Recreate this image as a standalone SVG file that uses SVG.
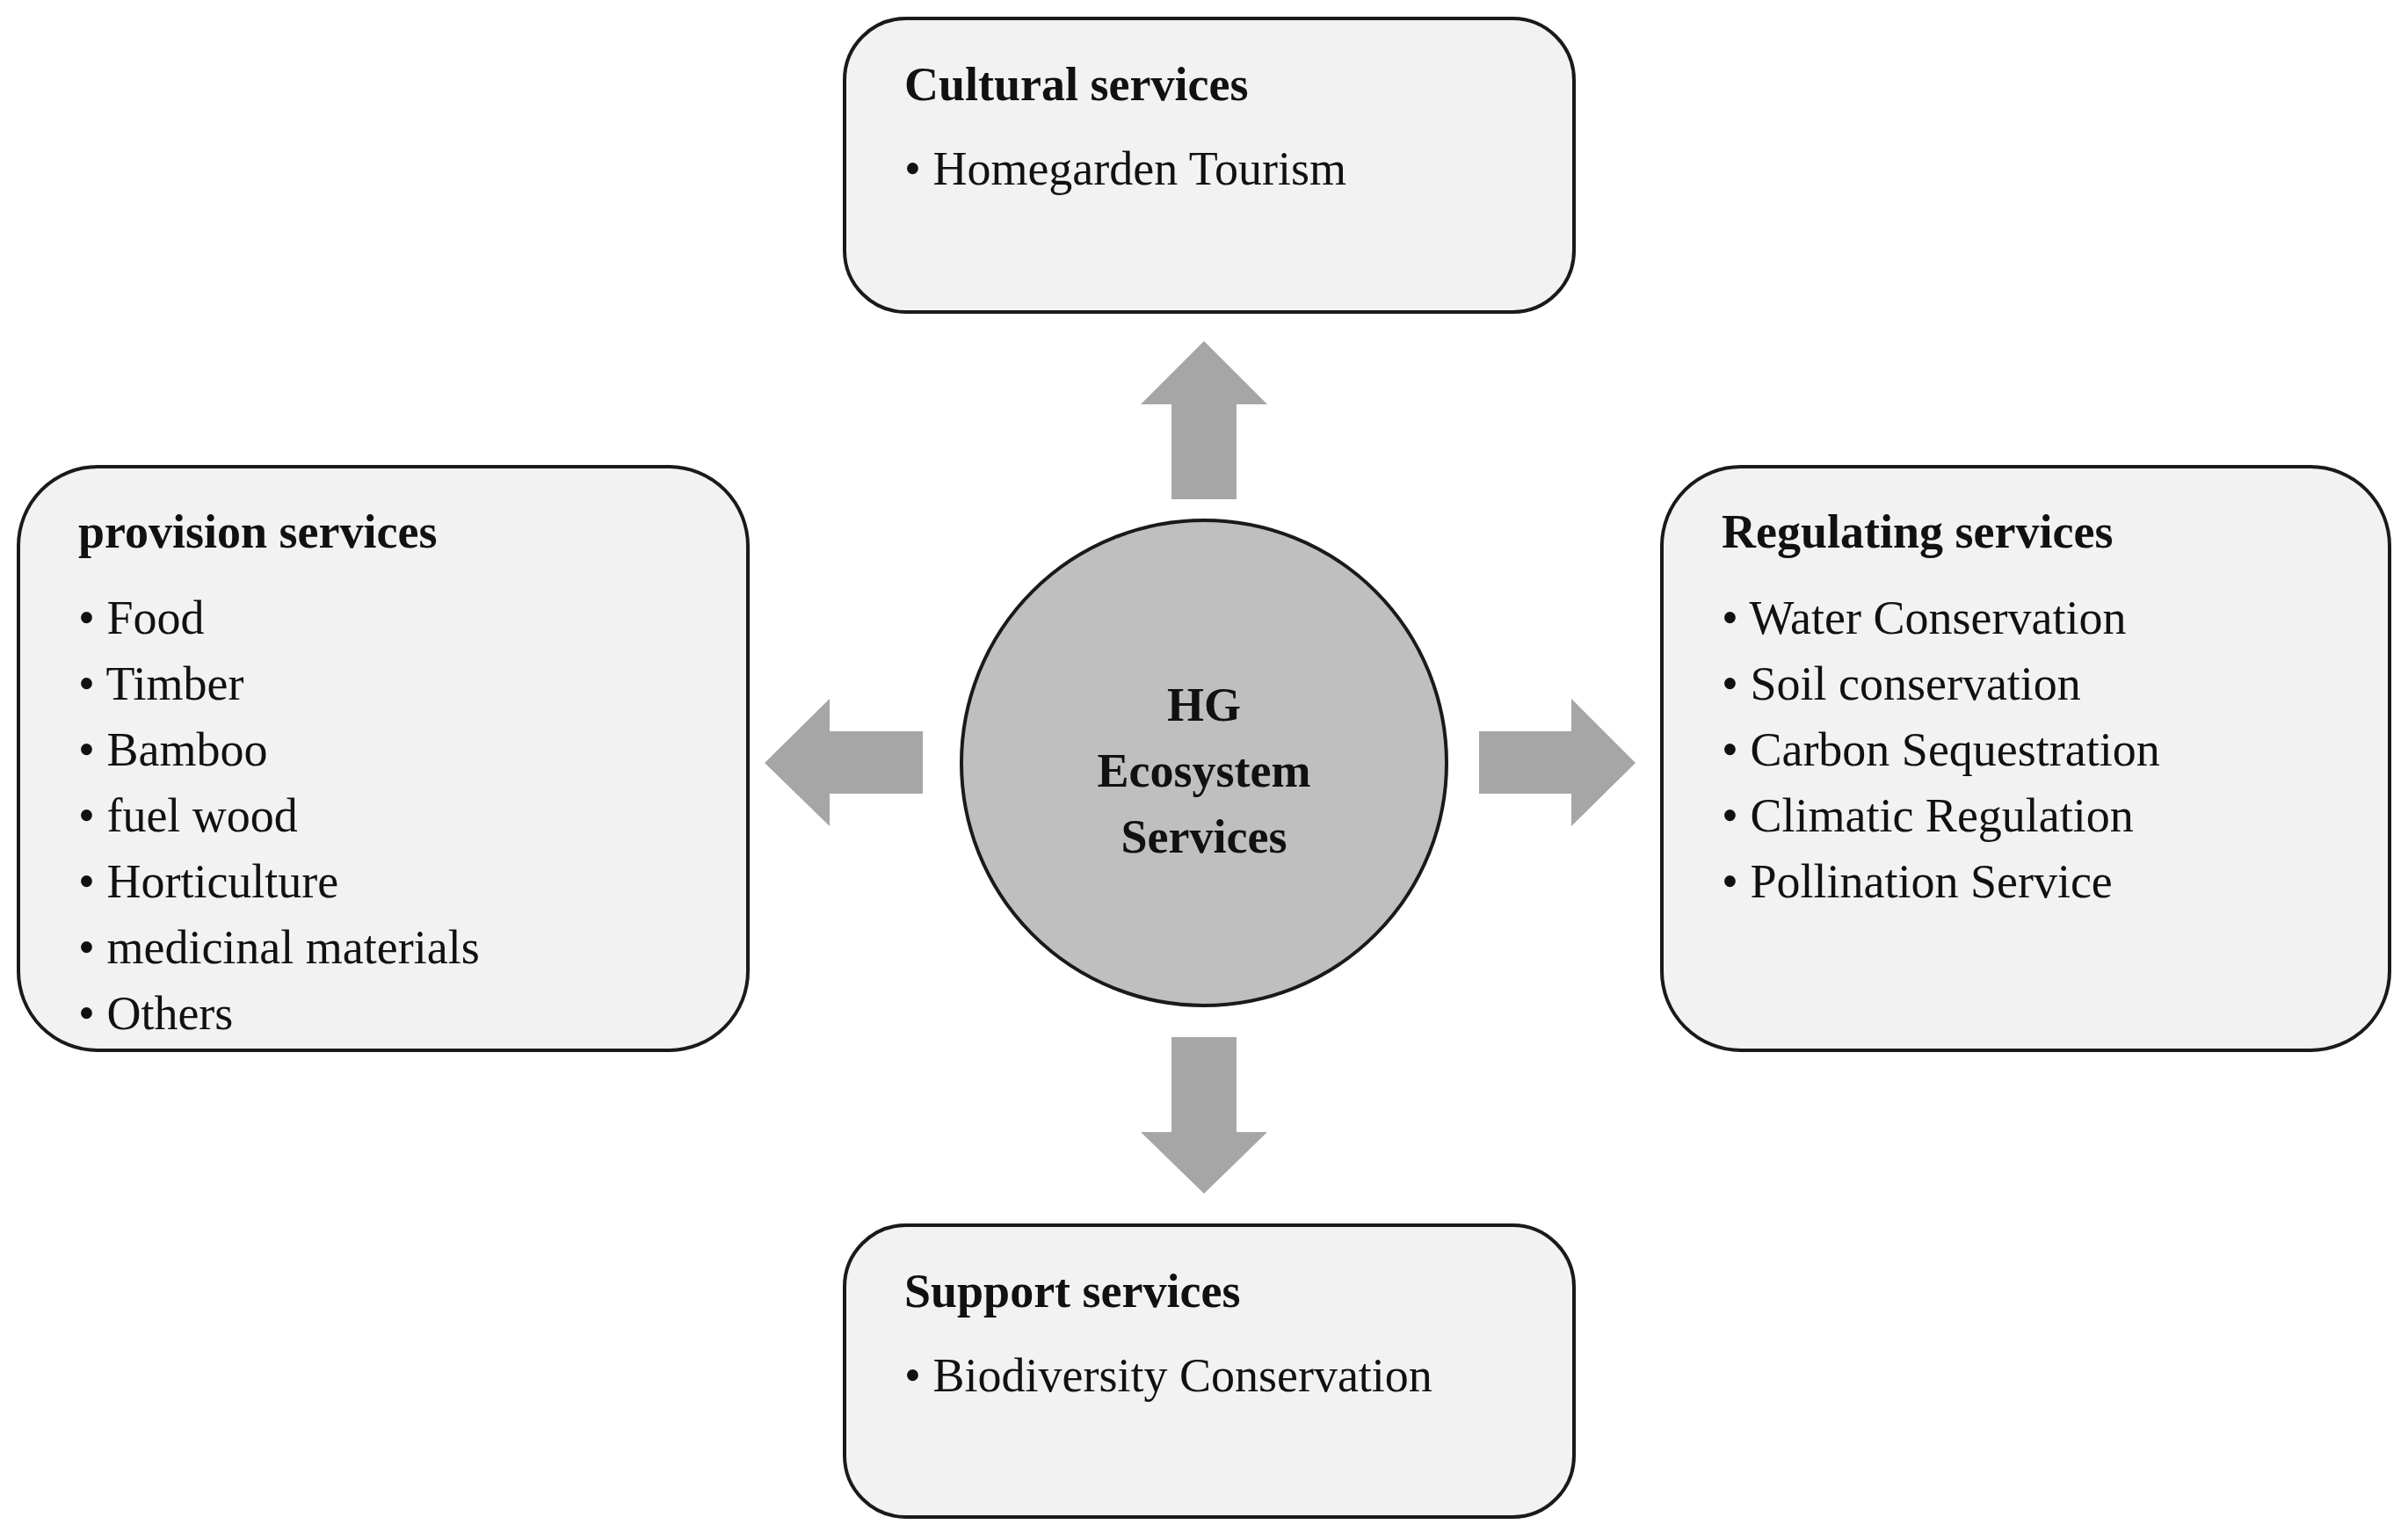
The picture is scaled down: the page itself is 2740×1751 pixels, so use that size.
<svg xmlns="http://www.w3.org/2000/svg" width="2740" height="1751" viewBox="0 0 2740 1751">
<style>
.box{fill:#f2f2f2;stroke:#1a1a1a;stroke-width:4}
.t{font-family:"Liberation Serif",serif;font-size:54px;fill:#111}
.b{font-weight:bold}
.arr{fill:#a6a6a6}
</style>
<rect width="2740" height="1751" fill="#fff"/>
<g id="connectors">
<polygon class="arr" points="1333,568 1333,460 1298,460 1370,388 1442,460 1407,460 1407,568"/>
<polygon class="arr" points="1333,1180 1333,1288 1298,1288 1370,1358 1442,1288 1407,1288 1407,1180"/>
<polygon class="arr" points="1050,832 944,832 944,795 870,868 944,940 944,903 1050,903"/>
<polygon class="arr" points="1683,832 1788,832 1788,795 1861,868 1788,940 1788,903 1683,903"/>
</g>
<g id="center">
<circle cx="1370" cy="868" r="276" fill="#bfbfbf" stroke="#1a1a1a" stroke-width="4"/>
<text class="t b" text-anchor="middle" x="1370" y="820">HG</text>
<text class="t b" text-anchor="middle" x="1370" y="895">Ecosystem</text>
<text class="t b" text-anchor="middle" x="1370" y="970">Services</text>
</g>
<g id="cultural">
<rect class="box" x="961" y="21" width="830" height="334" rx="70"/>
<text class="t b" x="1029" y="114">Cultural services</text>
<text class="t" x="1029" y="210">• Homegarden  Tourism</text>
</g>
<g id="provision">
<rect class="box" x="21" y="531" width="830" height="664" rx="90"/>
<text class="t b" x="89" y="623">provision services</text>
<text class="t" x="89" y="721">•  Food</text>
<text class="t" x="89" y="796">• Timber</text>
<text class="t" x="89" y="871">• Bamboo</text>
<text class="t" x="89" y="946">• fuel wood</text>
<text class="t" x="89" y="1021">• Horticulture</text>
<text class="t" x="89" y="1096">• medicinal  materials</text>
<text class="t" x="89" y="1171">• Others</text>
</g>
<g id="regulating">
<rect class="box" x="1891" y="531" width="828" height="664" rx="90"/>
<text class="t b" x="1959" y="623">Regulating services</text>
<text class="t" x="1959" y="721">• Water Conservation</text>
<text class="t" x="1959" y="796">• Soil conservation</text>
<text class="t" x="1959" y="871">• Carbon Sequestration</text>
<text class="t" x="1959" y="946">• Climatic Regulation</text>
<text class="t" x="1959" y="1021">• Pollination Service</text>
</g>
<g id="support">
<rect class="box" x="961" y="1394" width="830" height="332" rx="70"/>
<text class="t b" x="1029" y="1487">Support services</text>
<text class="t" x="1029" y="1583">• Biodiversity Conservation</text>
</g>
</svg>
